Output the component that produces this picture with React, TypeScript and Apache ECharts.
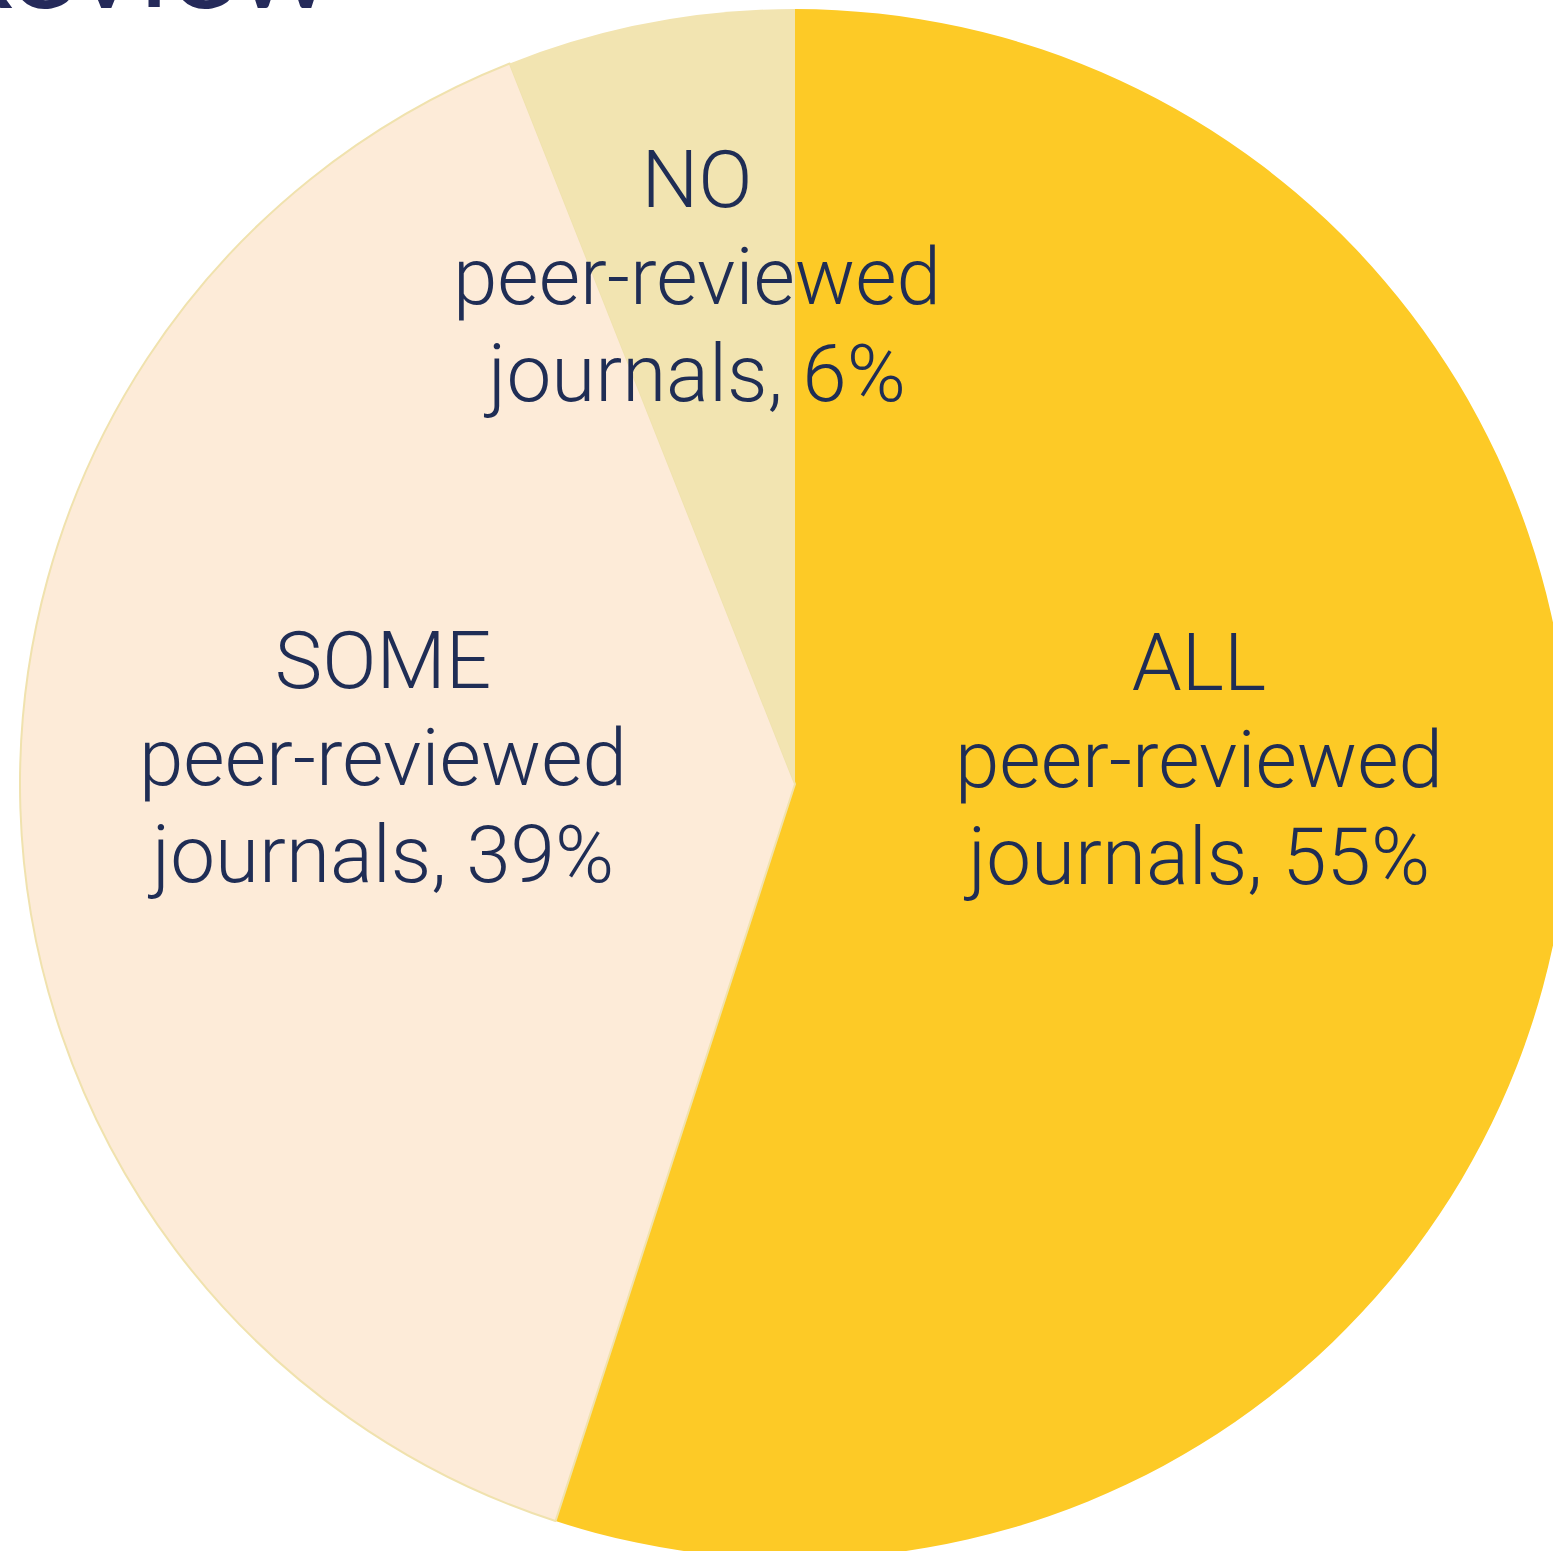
import React, { useEffect, useRef } from "react";
import * as echarts from "echarts";

const categories = ["ALL", "SOME", "NO"];
const values = [55, 39, 6];
const colors = ["#FDCA26", "#FDEBD8", "#F2E4B1"];
const labelCenters = [
  [1199, 760],
  [383, 758],
  [697, 277],
];

export default function App() {
  const ref = useRef<HTMLDivElement>(null);
  useEffect(() => {
    if (!ref.current) return;
    const chart = echarts.init(ref.current, null, { renderer: "svg" });
    chart.setOption({
      animation: false,
      backgroundColor: "#ffffff",
      graphic: [
        {
          type: "text",
          right: 1553 - 334,
          top: -104,
          style: {
            text: "Review",
            font: "400 126px Lato",
            fill: "#252A5A",
          },
        },
      ],
      series: [
        {
          type: "pie",
          center: [795, 784],
          radius: [0, 775],
          startAngle: 90,
          clockwise: true,
          silent: true,
          data: categories.map((c, i) => ({
            name: c,
            value: values[i],
            itemStyle: {
              color: colors[i],
              borderColor: i === 1 ? "#F0E2AE" : colors[i],
              borderWidth: i === 1 ? 2 : 0,
            },
          })),
          label: {
            show: true,
            position: "inside",
            formatter: (p: any) => `${p.name}\npeer-reviewed\njournals, ${p.value}%`,
            color: "#1F2D55",
            fontFamily: "Roboto",
            fontWeight: 300,
            fontSize: 80,
            lineHeight: 97,
            align: "center",
          },
          labelLine: { show: false },
          labelLayout: (params: any) => {
            const c = labelCenters[params.dataIndex];
            return { x: c[0], y: c[1], align: "center", verticalAlign: "middle" };
          },
        },
      ],
    });
    return () => chart.dispose();
  }, []);
  return (
    <div
      ref={ref}
      style={{ position: "fixed", left: 0, top: 0, width: 1553, height: 1551 }}
    />
  );
}
